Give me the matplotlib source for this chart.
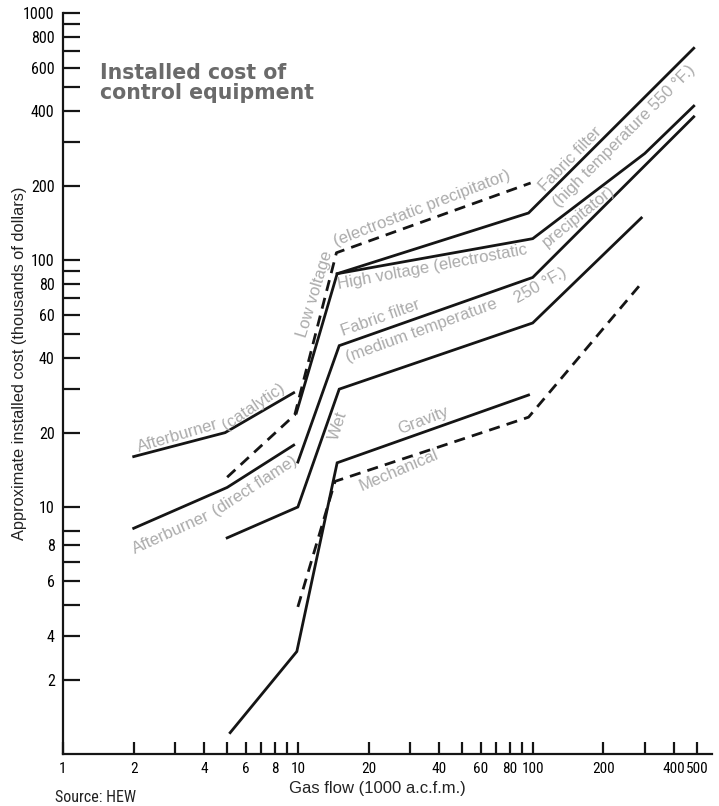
import matplotlib
matplotlib.use("Agg")
import matplotlib.pyplot as plt
from matplotlib import font_manager
from matplotlib.ticker import NullLocator

# pick a narrow face for the numbers if one is installed
fonts = font_manager.fontManager.ttflist
narrow_family, narrow_stretch = None, "normal"
for want in ["Liberation Sans Narrow", "Roboto Condensed", "Open Sans Condensed", "Noto Sans Condensed"]:
    if any(f.name == want for f in fonts):
        narrow_family = want
        break
if narrow_family is None:
    for f in fonts:
        if f.name in ("DejaVu Sans", "Noto Sans", "Open Sans", "Roboto") and "condensed" in str(f.stretch):
            narrow_family, narrow_stretch = f.name, f.stretch
            break
if narrow_family is None:
    narrow_family = "Liberation Sans"

# gas flow (1000 a.c.f.m.) / installed cost (thousands of dollars)
cat_x = [2, 4.9, 9.6]
cat_y = [16, 20, 29]
flame_x = [2, 5, 9.6]
flame_y = [8.2, 12, 17.8]
lv_x = [5, 9.7, 14.6, 98]
lv_y = [13.2, 23.6, 107, 205]
hv_x = [9.85, 14.7, 100, 300, 485]
hv_y = [24, 88, 122, 270, 420]
ffh_x = [14.7, 96, 485]
ffh_y = [88, 155, 720]
ffm_x = [10, 15, 100, 485]
ffm_y = [15.2, 45, 85, 380]
wet_x = [5, 10, 15, 100, 290]
wet_y = [7.5, 10, 30, 55.6, 148]
grav_x = [5.15, 9.9, 14.7, 96]
grav_y = [1.22, 2.6, 15.1, 28.4]
mech_x = [10, 14.4, 96, 291]
mech_y = [3.94, 12.7, 23.1, 80.7]

xticks = [1, 2, 3, 4, 5, 6, 7, 8, 9, 10, 20, 30, 40, 50, 60, 70, 80, 90, 100, 200, 300, 400, 500]
xlabels = ["1", "2", "", "4", "", "6", "", "8", "", "10", "20", "", "40", "", "60", "", "80", "", "100",
           "200", "", "400", "500"]
# labels sit as printed in the original (8, 6, 4 are one tick low)
yticks = [2, 3, 4, 5, 6, 7, 8, 10, 20, 30, 40, 50, 60, 70, 80, 90, 100, 200, 300, 400, 500, 600, 700, 800, 900, 1000]
ylabels = ["2", "4", "", "6", "", "8", "", "10", "20", "", "40", "", "60", "", "80", "", "100", "200", "",
           "400", "", "600", "", "800", "", "1000"]

fig = plt.figure(figsize=(7.19, 8.06), dpi=100)
ax = fig.add_axes([63 / 719, 52 / 806, 649 / 719, 741 / 806])
ax.set_xscale("log")
ax.set_yscale("log")
ax.set_xlim(1, 580)
ax.set_ylim(1, 1000)

solid = dict(color="#151515", lw=2.0, solid_joinstyle="miter")
dashed = dict(color="#151515", lw=2.0, linestyle=(0, (4, 2.6)))

ax.plot(cat_x, cat_y, **solid)
ax.plot(flame_x, flame_y, **solid)
ax.plot(lv_x, lv_y, **dashed)
ax.plot(hv_x, hv_y, **solid)
ax.plot(ffh_x, ffh_y, **solid)
ax.plot(ffm_x, ffm_y, **solid)
ax.plot(wet_x, wet_y, **solid)
ax.plot(grav_x, grav_y, **solid)
ax.plot(mech_x, mech_y, **dashed)

# curve labels
lab = dict(color="#ababab", fontsize=12, family="Liberation Sans", ha="center", va="center",
           rotation_mode="anchor")
labels = [
    ("Afterburner", 3.09, 19.5, 16.5),
    ("(catalytic)", 6.45, 25.4, 34),
    ("Afterburner", 2.89, 7.85, 24.5),
    ("(direct flame)", 6.58, 12.2, 33),
    ("Wet", 14.8, 21.3, 72),
    ("Gravity", 34.2, 22.3, 21),
    ("Mechanical", 26.8, 14.1, 23),
    ("Low voltage", 11.8, 72.8, 73),
    ("(electrostatic precipitator)", 33.9, 162, 21),
    ("High voltage (electrostatic", 37.5, 94.0, 10.5),
    ("precipitator)", 156.8, 150.7, 39),
    ("Fabric filter", 22.5, 58.2, 19.5),
    ("(medium temperature", 33.5, 51.6, 20),
    ("250 °F.)", 108, 78.5, 29),
    ("Fabric filter", 145, 256, 46),
    ("(high temperature 550 °F.)", 246, 318, 45),
]
for txt, x, y, rot in labels:
    ax.text(x, y, txt, rotation=rot, **lab)

for s in ["top", "right"]:
    ax.spines[s].set_visible(False)
for s in ["left", "bottom"]:
    ax.spines[s].set_linewidth(1.6)
    ax.spines[s].set_color("#151515")

ax.set_xticks(xticks)
ax.set_xticklabels(xlabels)
ax.set_yticks(yticks)
ax.set_yticklabels(ylabels)
ax.xaxis.set_minor_locator(NullLocator())
ax.yaxis.set_minor_locator(NullLocator())
tsize = 11 if narrow_family != "Liberation Sans" else 10
ax.tick_params(axis="x", direction="in", length=9, width=1.6, pad=6, labelsize=tsize, color="#151515")
ax.tick_params(axis="y", direction="in", length=12.5, width=1.6, pad=6, labelsize=tsize + 0.5,
               color="#151515")
for t in ax.get_xticklabels() + ax.get_yticklabels():
    t.set_family(narrow_family)
    t.set_stretch(narrow_stretch)

fig.text(20 / 719, 1 - 363 / 806, "Approximate installed cost (thousands of dollars)", rotation=90,
         ha="center", va="center", fontsize=11.8, family="Liberation Sans", color="#222222")
fig.text(377 / 719, 1 - 789 / 806, "Gas flow (1000 a.c.f.m.)", ha="center", va="center",
         fontsize=12, family="Liberation Sans", color="#222222")
fig.text(55 / 719, 1 - 798 / 806, "Source: HEW", ha="left", va="center", fontsize=tsize + 0.5,
         family=narrow_family, stretch=narrow_stretch, color="#222222")
fig.text(100 / 719, 1 - 83 / 806, "Installed cost of\ncontrol equipment", ha="left", va="center",
         fontsize=14.8, fontweight="bold", family="DejaVu Sans", color="#6a6a6a", linespacing=1.0)

fig.savefig("out.png", dpi=100, facecolor="white")
